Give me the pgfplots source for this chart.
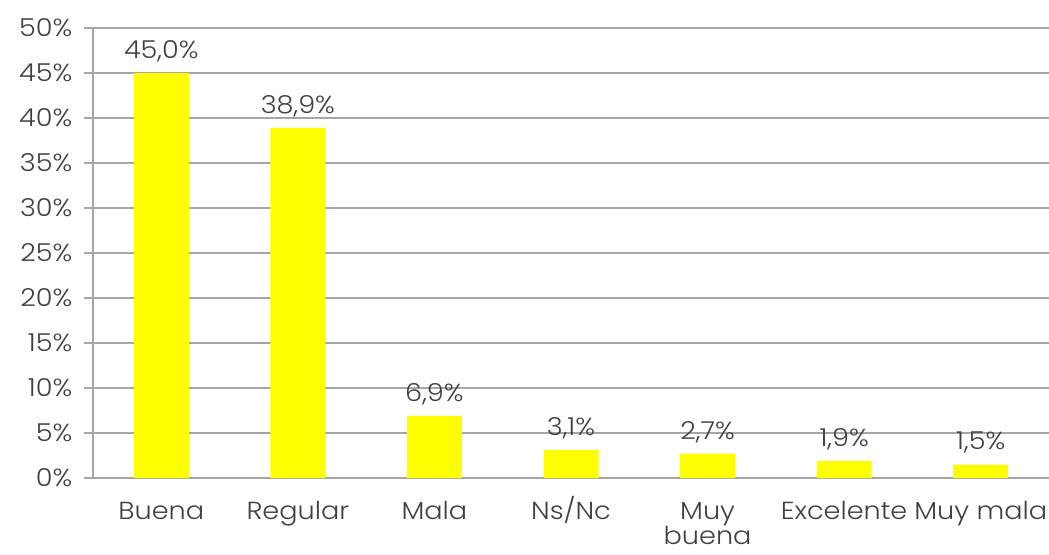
\documentclass[border=0pt]{standalone}
\usepackage{pgfplots}
\pgfplotsset{compat=1.18}
\usepackage{fontspec}
\setmainfont{Poppins Light}[FakeStretch=1.1]
\definecolor{barY}{HTML}{FFFF00}
\definecolor{gridG}{HTML}{A6A6A6}
\definecolor{txt}{HTML}{404040}
\begin{document}
\begin{tikzpicture}[x=1pt,y=1pt]
\begin{axis}[
  at={(69.75pt,57pt)}, anchor=south west,
  scale only axis, width=717pt, height=337.5pt,
  xmin=-0.5, xmax=6.5, ymin=0, ymax=50,
  axis lines*=left,
  axis line style={gridG, line width=0.8pt},
  ytick={0,5,...,50},
  yticklabel={\pgfmathprintnumber{\tick}\%},
  ymajorgrids, grid style={gridG, line width=0.8pt},
  major tick length=7pt,
  tick style={gridG, line width=0.8pt},
  ytick style={gridG},
  tick align=outside,
  xtick={0,...,6},
  xtick style={draw=none},
  minor xtick={-0.5,0.5,...,6.5},
  minor tick length=7pt,
  minor x tick style={gridG, line width=0.8pt},
  xticklabels={Buena,Regular,Mala,Ns/Nc,{\begin{tabular}[t]{@{}c@{}}Muy\\[-1pt]buena\end{tabular}},Excelente,Muy mala},
  xticklabel style={text=txt, font=\fontsize{18.5}{19.5}\selectfont, inner sep=0pt, anchor=base, yshift=-24pt},
  yticklabel style={text=txt, font=\fontsize{18.5}{18.5}\selectfont, xshift=-5pt},
  /pgf/number format/assume math mode=true,
  ybar, bar width=41.25pt,
  nodes near coords={\pgfmathprintnumber[fixed,fixed zerofill,precision=1,use comma]{\pgfplotspointmeta}\%},
  nodes near coords style={text=txt, font=\fontsize{18.5}{18.5}\selectfont, /pgf/number format/assume math mode=true, inner sep=4pt, yshift=4pt},
  point meta=explicit,
]
\addplot[fill=barY, draw=none] coordinates {
  (0,45.0) [45.0]
  (1,38.9) [38.9]
  (2,6.9) [6.9]
  (3,3.1) [3.1]
  (4,2.7) [2.7]
  (5,1.9) [1.9]
  (6,1.5) [1.5]
};
\end{axis}
\pgfresetboundingbox
\path (0,0) rectangle (786.75pt,415.5pt);
\end{tikzpicture}
\end{document}
